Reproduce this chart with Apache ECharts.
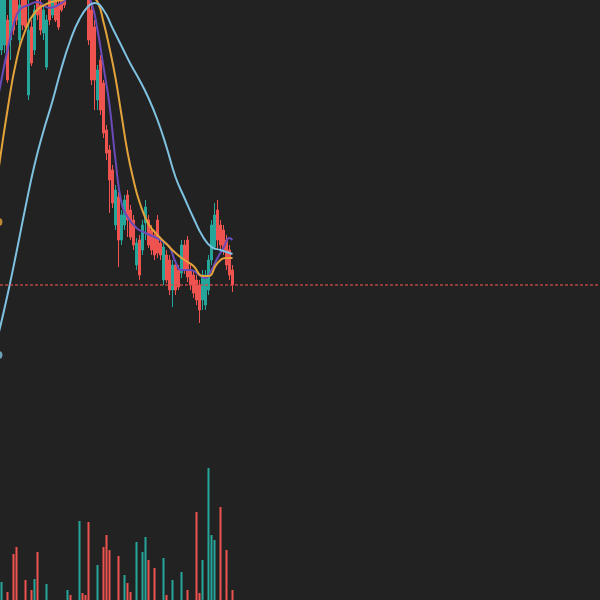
<!DOCTYPE html>
<html><head><meta charset="utf-8">
<script src="https://cdn.jsdelivr.net/npm/echarts@6/dist/echarts.min.js"></script>
<style>html,body{margin:0;padding:0;background:#222222;}#c{width:600px;height:600px;}</style>
</head><body><div id="c"></div>
<script>
// leading hidden candles (off-screen to the left)
const leadCount = 10;
const totalCategories = 210;
// candles: [open, close, low, high]
const candles = [
[175,205,172.5,210],[177.5,202.5,173.5,207.5],[190,160,158.5,192.5],[180,200,170,205],[202.5,185,182.5,205],
[205,190,187.5,207.5],[180,197.5,177.5,200],[202.5,187.5,185,205],[200,186.5,185,202.5],[152.5,185,150,200],
[186.5,168.5,167,190],[175,195,172.5,197.5],[200,192.5,190,202.5],[197.5,185,182.5,200],[183.5,195,180,197.5],
[166.5,190,165,192.5],[200,190,187.5,202.5],[192.5,202.5,191,205],[200,190,189,202.5],[197.5,186.5,185,200],
[202.5,195,194,205],[205,197.5,196,207.5],[206,215,204,217.5],[216,207.5,205,219],[210,217.5,207.5,220],
[217.5,209,206,220],[205,215,202.5,217.5],[212.5,204,202,215],[210,202.5,201,212.5],[205,180,177.5,207.5],
[195,160,157.5,197.5],[186.5,160,145,190],[150,165,145,167.5],[170,145,142.5,172.5],[158.5,133.5,131,160],
[135,123.5,120,137.5],[125,110,93.5,127.5],[115,98.5,96,117.5],[87.5,105,85,107.5],[101.5,80,66.5,104],
[80,92.5,77.5,95],[87.5,100,85,102.5],[102.5,90,81.5,105],[95,81.5,80,97.5],[90,77.5,75,92.5],
[67.5,78.5,65,81],[80,62.5,60,82.5],[75,87.5,72.5,90],[88.5,96.5,80,100],[90,77.5,76,92.5],
[85,75,72.5,87.5],[82.5,72.5,70,85],[90,73.5,71,92.5],[78.5,72.5,70,81],[60,76.5,57.5,79],
[72.5,60,58.5,75],[70,55,52.5,72.5],[55,67.5,46.5,70],[67.5,55,52.5,70],[65,56.5,55,67.5],
[63.5,77.5,61,80],[77.5,65,63,80],[80,61.5,59,82],[65,57.5,55,67.5],[62.5,53.5,51,65],
[60,50,47.5,62.5],[57.5,45,38.5,60],[50,62.5,45,65],[47.5,62.5,45,65],[55,70,52.5,72.5],
[70,87.5,67.5,90],[76.5,92.5,75,98.5],[95,80,75,100],[87.5,77.5,75,90],[85,75,72.5,87.5],
[80,67.5,65,82.5],[75,62.5,60,77.5],[65,57.5,54,67.5]
];
const volumes = [
29,16,24,16,43,46.5,16,16,30,16,
25,30.5,44,16,16,28,16,16,16,16,
16,16,25,22.5,16,16,59.5,23.5,22.5,59,
16,16,37.5,16,46.5,52.5,45,16,16,42,
16,32.5,28.5,24,16,49,16,44,51.5,40,
16,36,16,16,41,22.5,16,30,16,16,
34,16,25,16,16,64,23.5,40,16,86,
52.5,50,16,66.5,16,45,16,25
];
// moving averages: [categoryIndex, value]
const maPurple = [[9,152.5],[12,175],[14,187.5],[16,195],[19,197.5],[22,199],[26,196],[30,198.5],[34,202.5],[38,202.5],[40,198.5],[42,185],[44,166.5],[46,147.5],[48,120],[50,98.5],[52,91.5],[55,86],[58,83.5],[61,81.5],[64,79],[66,76.5],[68,69],[70,65],[73,65],[76,62.5],[78,61],[80,65],[82,71],[84,76],[86,81],[87,80]];
const maOrange = [[9,115],[12,145],[15,170],[18,185],[21,193.5],[25,198],[30,200],[35,201.5],[40,201],[42,199],[44,189],[46,176],[48,161],[50,142.5],[52,124],[54,110],[56,99],[59,88],[62,82.5],[65,78],[68,73.5],[71,70],[74,67],[77,62],[79,62],[82,68.5],[85,71],[87,71]];
const maBlue = [[9,33],[12,52.5],[15,74],[18,96.5],[21,117.5],[24,134.5],[27,149.5],[30,166],[33,180],[36,190.5],[39,197],[41,198.5],[44,195],[47,186],[50,177],[53,168],[56,160],[59,151],[62,140],[65,126.5],[68,111.5],[71,101],[74,91],[77,82],[80,76.5],[83,75],[86,73.5],[87,73]];
const edgeDots = [[9,89],[9,22.5]];
const lastPrice = 57.5;

const UP = '#26a69a', DOWN = '#ef5350';
const cats = [];
for (let i = 0; i < totalCategories; i++) cats.push(String(i));
const candleData = [];
const volData = [];
for (let i = 0; i < leadCount; i++) { candleData.push('-'); volData.push('-'); }
candles.forEach((c, i) => {
  candleData.push(c);
  volData.push({ value: volumes[i], itemStyle: { color: c[1] >= c[0] ? UP : DOWN } });
});

const chart = echarts.init(document.getElementById('c'), null, { renderer: 'canvas' });
chart.setOption({
  backgroundColor: '#222222',
  animation: false,
  grid: [
    { left: 0, top: 0, width: 600, height: 400 },
    { left: 0, top: 440, width: 600, height: 160 }
  ],
  xAxis: [
    { type: 'category', data: cats, gridIndex: 0, show: false, boundaryGap: true, min: leadCount, max: totalCategories - 1 },
    { type: 'category', data: cats, gridIndex: 1, show: false, boundaryGap: true, min: leadCount, max: totalCategories - 1 }
  ],
  yAxis: [
    { type: 'value', gridIndex: 0, min: 0, max: 200, show: false, splitLine: { show: false } },
    { type: 'value', gridIndex: 1, min: 20, max: 100, show: false, splitLine: { show: false } }
  ],
  series: [
    {
      type: 'candlestick', xAxisIndex: 0, yAxisIndex: 0, data: candleData, barWidth: 2,
      itemStyle: { color: UP, color0: DOWN, borderColor: UP, borderColor0: DOWN, borderWidth: 1 },
      markLine: {
        silent: true, symbol: ['none', 'none'],
        label: { show: false },
        lineStyle: { color: '#d24a4a', type: [3, 2], width: 1.5, opacity: 0.85 },
        data: [{ yAxis: lastPrice }]
      }
    },
    { type: 'line', name: 'MA-A', data: maPurple, smooth: true, showSymbol: false,
      lineStyle: { color: '#6a4bb8', width: 2 }, itemStyle: { color: '#6a4bb8' } },
    { type: 'line', name: 'MA-B', data: maOrange, smooth: true, showSymbol: false,
      lineStyle: { color: '#e3a33a', width: 2 }, itemStyle: { color: '#e3a33a' } },
    { type: 'line', name: 'MA-C', data: maBlue, smooth: true, showSymbol: false,
      lineStyle: { color: '#7ec1e0', width: 2 }, itemStyle: { color: '#7ec1e0' } },
    { type: 'scatter', symbolSize: 8, clip: false,
      data: [
        { value: edgeDots[0], itemStyle: { color: '#e3a33a' } },
        { value: edgeDots[1], itemStyle: { color: '#7ec1e0' } }
      ] },
    { type: 'bar', xAxisIndex: 1, yAxisIndex: 1, data: volData, barWidth: 2 }
  ]
});
</script>
</body></html>
